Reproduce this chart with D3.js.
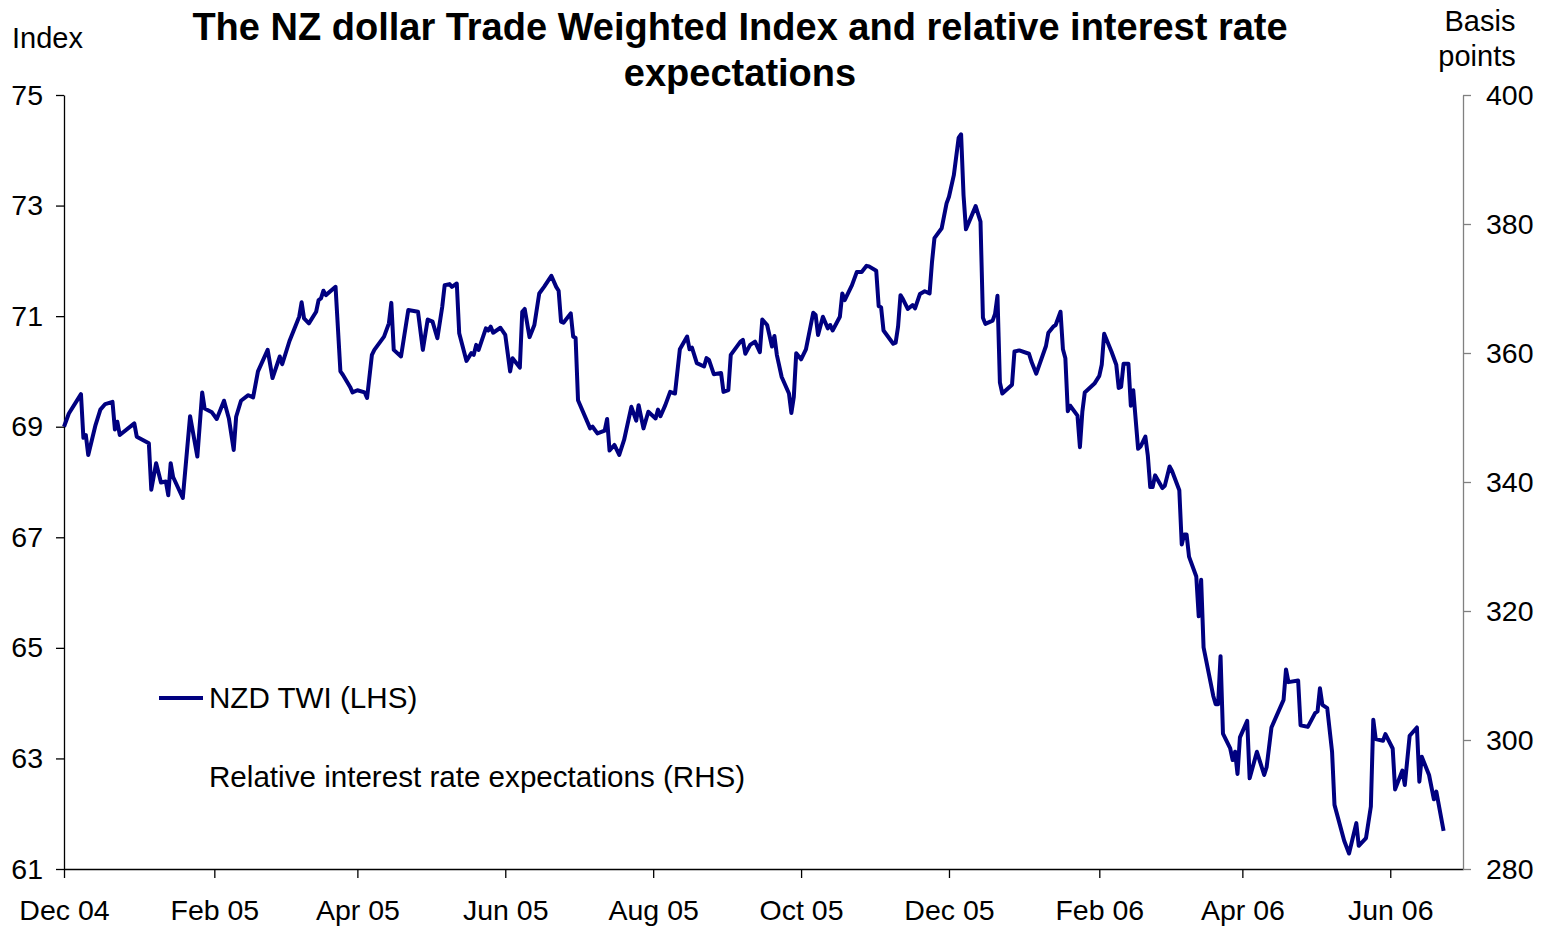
<!DOCTYPE html>
<html>
<head>
<meta charset="utf-8">
<script src="https://cdn.jsdelivr.net/npm/d3@7"></script>
<style>
  body { margin: 0; background: #fff; }
  text { font-family: "Liberation Sans", Arial, sans-serif; fill: #000; }
</style>
</head>
<body>
<main></main>
<script>
// NZD TWI
var twiDates = [
  "2004-12-01","2004-12-03","2004-12-08","2004-12-09","2004-12-10","2004-12-11","2004-12-14","2004-12-16","2004-12-18","2004-12-21",
  "2004-12-22","2004-12-23","2004-12-24","2004-12-30","2004-12-31","2005-01-05","2005-01-06","2005-01-08","2005-01-10","2005-01-12",
  "2005-01-13","2005-01-14","2005-01-15","2005-01-19","2005-01-22","2005-01-25","2005-01-27","2005-01-28","2005-01-31","2005-02-02",
  "2005-02-05","2005-02-07","2005-02-09","2005-02-10","2005-02-12","2005-02-15","2005-02-17","2005-02-19","2005-02-23","2005-02-25",
  "2005-02-28","2005-03-01","2005-03-04","2005-03-08","2005-03-09","2005-03-10","2005-03-12","2005-03-15","2005-03-16","2005-03-17",
  "2005-03-18","2005-03-19","2005-03-23","2005-03-25","2005-03-26","2005-03-29","2005-03-30","2005-04-01","2005-04-04","2005-04-05",
  "2005-04-07","2005-04-08","2005-04-12","2005-04-14","2005-04-15","2005-04-16","2005-04-19","2005-04-22","2005-04-26","2005-04-28",
  "2005-04-30","2005-05-02","2005-05-04","2005-05-06","2005-05-07","2005-05-09","2005-05-10","2005-05-12","2005-05-13","2005-05-16",
  "2005-05-18","2005-05-19","2005-05-20","2005-05-21","2005-05-24","2005-05-25","2005-05-26","2005-05-27","2005-05-30","2005-06-01",
  "2005-06-03","2005-06-04","2005-06-07","2005-06-08","2005-06-09","2005-06-11","2005-06-13","2005-06-15","2005-06-17","2005-06-20",
  "2005-06-22","2005-06-23","2005-06-24","2005-06-25","2005-06-28","2005-06-29","2005-06-30","2005-07-01","2005-07-06","2005-07-07",
  "2005-07-09","2005-07-12","2005-07-13","2005-07-14","2005-07-16","2005-07-18","2005-07-20","2005-07-23","2005-07-25","2005-07-26",
  "2005-07-28","2005-07-30","2005-08-02","2005-08-03","2005-08-04","2005-08-06","2005-08-08","2005-08-10","2005-08-12","2005-08-15",
  "2005-08-16","2005-08-17","2005-08-19","2005-08-22","2005-08-23","2005-08-24","2005-08-26","2005-08-29","2005-08-30","2005-09-01",
  "2005-09-02","2005-09-06","2005-09-07","2005-09-08","2005-09-10","2005-09-12","2005-09-14","2005-09-15","2005-09-17","2005-09-19",
  "2005-09-20","2005-09-21","2005-09-23","2005-09-26","2005-09-27","2005-09-28","2005-09-29","2005-10-01","2005-10-03","2005-10-06",
  "2005-10-07","2005-10-08","2005-10-10","2005-10-12","2005-10-13","2005-10-14","2005-10-17","2005-10-18","2005-10-19","2005-10-22",
  "2005-10-24","2005-10-26","2005-10-28","2005-10-29","2005-11-01","2005-11-02","2005-11-03","2005-11-04","2005-11-08","2005-11-09",
  "2005-11-10","2005-11-11","2005-11-12","2005-11-14","2005-11-16","2005-11-17","2005-11-19","2005-11-21","2005-11-23","2005-11-24",
  "2005-11-25","2005-11-28","2005-11-30","2005-12-01","2005-12-03","2005-12-05","2005-12-06","2005-12-07","2005-12-08","2005-12-12",
  "2005-12-14","2005-12-15","2005-12-16","2005-12-19","2005-12-20","2005-12-21","2005-12-22","2005-12-23","2005-12-27","2005-12-28",
  "2005-12-30","2006-01-03","2006-01-04","2006-01-06","2006-01-10","2006-01-11","2006-01-13","2006-01-14","2006-01-16","2006-01-17",
  "2006-01-18","2006-01-19","2006-01-20","2006-01-23","2006-01-24","2006-01-25","2006-01-26","2006-01-30","2006-02-01","2006-02-02",
  "2006-02-03","2006-02-06","2006-02-08","2006-02-09","2006-02-10","2006-02-11","2006-02-13","2006-02-14","2006-02-15","2006-02-17",
  "2006-02-18","2006-02-20","2006-02-21","2006-02-22","2006-02-23","2006-02-24","2006-02-27","2006-02-28","2006-03-02","2006-03-03",
  "2006-03-06","2006-03-07","2006-03-08","2006-03-09","2006-03-10","2006-03-13","2006-03-14","2006-03-15","2006-03-16","2006-03-20",
  "2006-03-21","2006-03-22","2006-03-23","2006-03-24","2006-03-27","2006-03-28","2006-03-29","2006-03-30","2006-03-31","2006-04-03",
  "2006-04-04","2006-04-07","2006-04-10","2006-04-11","2006-04-13","2006-04-18","2006-04-19","2006-04-20","2006-04-24","2006-04-25",
  "2006-04-28","2006-05-01","2006-05-02","2006-05-03","2006-05-04","2006-05-06","2006-05-08","2006-05-09","2006-05-13","2006-05-15",
  "2006-05-18","2006-05-19","2006-05-22","2006-05-24","2006-05-25","2006-05-26","2006-05-29","2006-05-30","2006-06-02","2006-06-03",
  "2006-06-06","2006-06-07","2006-06-09","2006-06-12","2006-06-13","2006-06-14","2006-06-17","2006-06-19","2006-06-20","2006-06-23"
];
var twiValues = [
  69.00,69.24,69.59,68.80,68.85,68.49,69.03,69.31,69.41,69.45,
  68.95,69.09,68.85,69.06,68.82,68.70,67.86,68.34,67.99,68.01,
  67.76,68.34,68.09,67.71,69.19,68.46,69.62,69.33,69.26,69.14,
  69.47,69.15,68.58,69.18,69.47,69.57,69.53,70.00,70.39,69.88,
  70.27,70.13,70.55,70.99,71.25,70.96,70.87,71.08,71.29,71.32,
  71.46,71.38,71.53,70.00,69.94,69.72,69.62,69.66,69.62,69.52,
  70.30,70.39,70.63,70.87,71.24,70.39,70.27,71.11,71.08,70.39,
  70.94,70.90,70.60,71.17,71.56,71.58,71.53,71.59,70.69,70.19,
  70.33,70.30,70.48,70.39,70.78,70.74,70.81,70.70,70.79,70.66,
  70.00,70.24,70.07,71.08,71.13,70.62,70.84,71.41,71.53,71.73,
  71.53,71.46,70.90,70.88,71.05,70.63,70.61,69.48,68.97,69.00,
  68.88,68.93,69.14,68.57,68.67,68.49,68.76,69.36,69.11,69.39,
  68.97,69.27,69.15,69.31,69.19,69.39,69.63,69.60,70.40,70.63,
  70.40,70.43,70.15,70.09,70.24,70.21,69.95,69.97,69.63,69.66,
  70.30,70.54,70.57,70.32,70.48,70.54,70.35,70.94,70.84,70.45,
  70.64,70.30,69.90,69.60,69.25,69.54,70.33,70.22,70.40,71.06,
  71.02,70.66,70.99,70.78,70.84,70.74,70.99,71.41,71.29,71.56,
  71.80,71.80,71.91,71.90,71.82,71.18,71.16,70.74,70.50,70.52,
  70.81,71.38,71.31,71.13,71.20,71.14,71.40,71.45,71.41,71.98,
  72.41,72.59,73.04,73.16,73.55,74.23,74.29,73.19,72.57,72.99,
  72.71,70.97,70.86,70.92,71.04,71.37,69.80,69.60,69.76,70.36,
  70.38,70.32,70.18,69.96,70.46,70.70,70.81,70.84,71.08,70.40,
  70.24,69.28,69.38,69.20,68.63,69.27,69.62,69.78,69.92,70.12,
  70.68,70.36,70.12,69.70,69.72,70.14,70.14,69.38,69.66,68.60,
  68.64,68.82,68.48,67.91,67.91,68.12,67.89,67.93,68.28,68.20,
  67.85,66.87,67.05,67.05,66.65,66.29,65.57,66.23,65.01,64.13,
  63.98,63.98,64.85,63.45,63.18,62.97,63.12,62.72,63.38,63.68,
  62.64,63.12,62.70,62.84,63.56,64.06,64.61,64.38,64.41,63.60,
  63.57,63.82,63.85,64.27,63.97,63.91,63.12,62.16,61.51,61.28,
  61.83,61.42,61.56,62.13,63.70,63.35,63.32,63.44,63.18,62.44,
  62.78,62.52,63.41,63.56,62.58,63.03,62.70,62.26,62.40,61.69
];
// second series is listed in the legend but has no line in the chart
var rateValues = [];

var xTickDates = ["2004-12-01","2005-02-01","2005-04-01","2005-06-01","2005-08-01","2005-10-01",
  "2005-12-01","2006-02-01","2006-04-01","2006-06-01"];
var xTickLabels = ["Dec 04","Feb 05","Apr 05","Jun 05","Aug 05","Oct 05","Dec 05","Feb 06","Apr 06","Jun 06"];
var leftTicks = [61, 63, 65, 67, 69, 71, 73, 75];
var rightTicks = [280, 300, 320, 340, 360, 380, 400];

var parse = d3.timeParse("%Y-%m-%d");
var series = twiDates.map(function (d, i) { return { date: parse(d), value: twiValues[i] }; });

var svg = d3.select("main")
    .append("svg")
    .attr("width", 1544)
    .attr("height", 927);

var x = d3.scaleTime()
    .domain([parse("2004-12-01"), parse("2006-07-01")])
    .range([64, 1463]);
var y = d3.scaleLinear().domain([61, 75]).range([869, 95]);
var yRight = d3.scaleLinear().domain([280, 400]).range([869, 95]);

// axes
var xAxis = d3.axisBottom(x)
    .tickValues(xTickDates.map(parse))
    .tickFormat(function (d, i) { return xTickLabels[i]; })
    .tickSize(9)
    .tickSizeOuter(0)
    .tickPadding(22);
var gx = svg.append("g").attr("transform", "translate(0,869)").call(xAxis);

var gy = svg.append("g").attr("transform", "translate(64,0)")
    .call(d3.axisLeft(y).tickValues(leftTicks).tickSize(8).tickSizeOuter(0).tickPadding(13));

var gr = svg.append("g").attr("transform", "translate(1463,0)")
    .call(d3.axisRight(yRight).tickValues(rightTicks).tickSize(8).tickSizeOuter(0).tickPadding(15));

[gx, gy, gr].forEach(function (g) {
    g.selectAll("text")
        .style("font-size", "28.5px")
        .style("font-family", "'Liberation Sans', Arial, sans-serif")
        .attr("fill", "#000");
    g.selectAll("line, path").attr("stroke", "#000").attr("stroke-width", 1.3);
});
gr.selectAll("line, path").attr("stroke", "#808080");
gx.selectAll("text").attr("dy", "0.71em");

// line
var line = d3.line()
    .x(function (d) { return x(d.date); })
    .y(function (d) { return y(d.value); });

svg.append("path")
    .datum(series)
    .attr("fill", "none")
    .attr("stroke", "#000080")
    .attr("stroke-width", 4)
    .attr("stroke-linejoin", "round")
    .attr("d", line);

// titles
svg.append("text").attr("x", 740).attr("y", 40).attr("text-anchor", "middle")
    .style("font-size", "38px").style("font-weight", "bold")
    .text("The NZ dollar Trade Weighted Index and relative interest rate");
svg.append("text").attr("x", 740).attr("y", 86).attr("text-anchor", "middle")
    .style("font-size", "38px").style("font-weight", "bold")
    .text("expectations");

svg.append("text").attr("x", 12).attr("y", 48).style("font-size", "29px").text("Index");
svg.append("text").attr("x", 1480).attr("y", 31).attr("text-anchor", "middle").style("font-size", "29px").text("Basis");
svg.append("text").attr("x", 1477).attr("y", 66).attr("text-anchor", "middle").style("font-size", "29px").text("points");

// legend
var legend = svg.append("g");
legend.append("line")
    .attr("x1", 159).attr("x2", 203).attr("y1", 698).attr("y2", 698)
    .attr("stroke", "#000080").attr("stroke-width", 4);
legend.append("text").attr("x", 209).attr("y", 708).style("font-size", "29.6px").text("NZD TWI (LHS)");
legend.append("text").attr("x", 209).attr("y", 787).style("font-size", "29.6px").text("Relative interest rate expectations (RHS)");
</script>
</body>
</html>
